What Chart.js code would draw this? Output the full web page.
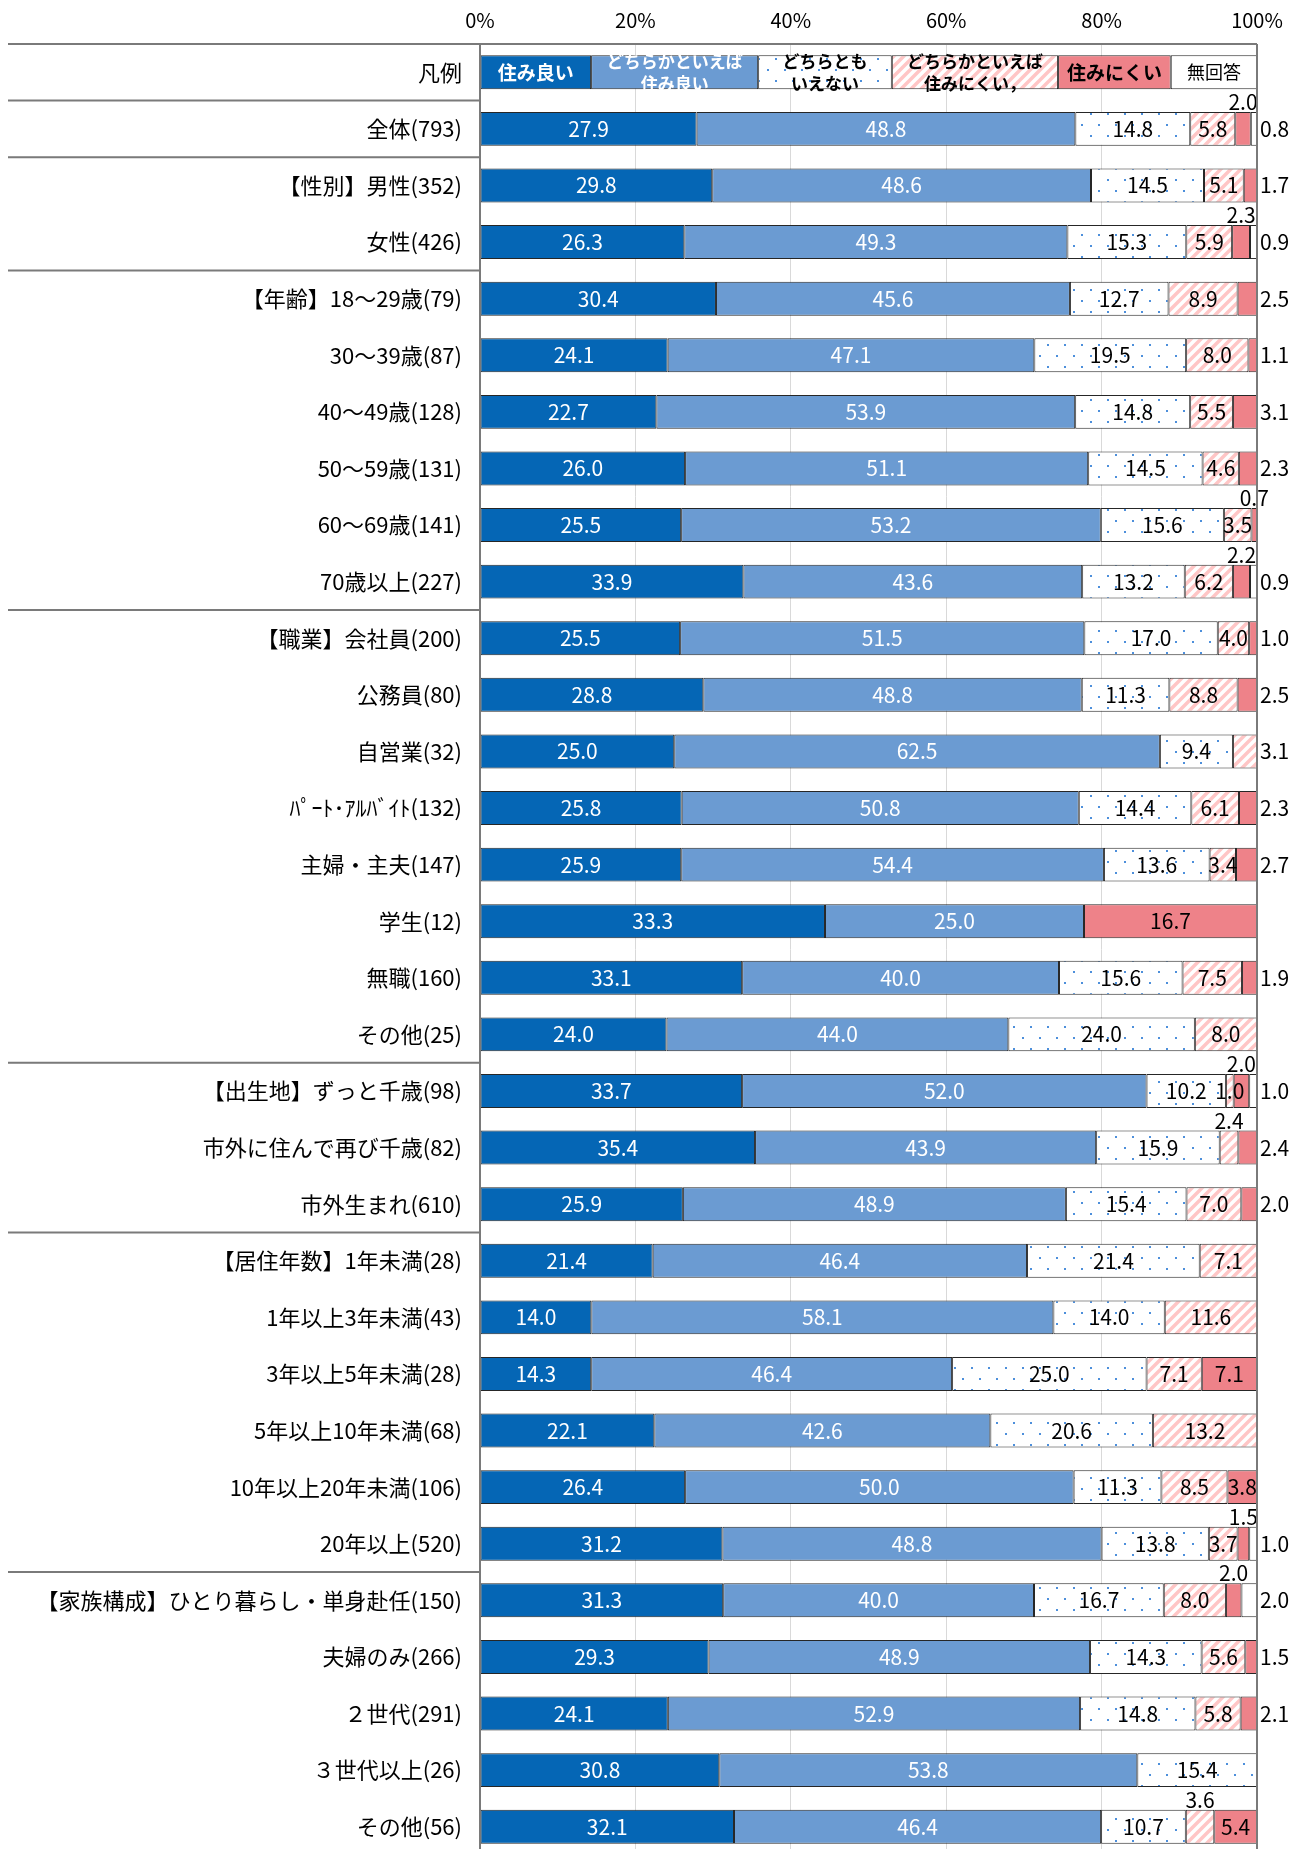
<!DOCTYPE html>
<html lang="ja">
<head>
<meta charset="utf-8">
<title>住みやすさ</title>
<script src="https://cdn.jsdelivr.net/npm/chart.js@4.4.1/dist/chart.umd.min.js"></script>
<style>
html, body { margin: 0; padding: 0; background: #fff; overflow: hidden; }
#wrap { position: relative; width: 1298px; height: 1856px; }
</style>
</head>
<body>
<div id="wrap"><canvas id="myChart"></canvas></div>
<script>
// 回答者の区分
var categories = [
    '全体(793)',
    '【性別】男性(352)', '女性(426)',
    '【年齢】18〜29歳(79)', '30〜39歳(87)', '40〜49歳(128)', '50〜59歳(131)', '60〜69歳(141)', '70歳以上(227)',
    '【職業】会社員(200)', '公務員(80)', '自営業(32)', 'ﾊﾟｰﾄ･ｱﾙﾊﾞｲﾄ(132)', '主婦・主夫(147)', '学生(12)', '無職(160)', 'その他(25)',
    '【出生地】ずっと千歳(98)', '市外に住んで再び千歳(82)', '市外生まれ(610)',
    '【居住年数】1年未満(28)', '1年以上3年未満(43)', '3年以上5年未満(28)', '5年以上10年未満(68)', '10年以上20年未満(106)', '20年以上(520)',
    '【家族構成】ひとり暮らし・単身赴任(150)', '夫婦のみ(266)', '２世代(291)', '３世代以上(26)', 'その他(56)'
];

// 回答の割合 (%)
var sumiyoi       = [27.9, 29.8, 26.3, 30.4, 24.1, 22.7, 26.0, 25.5, 33.9, 25.5, 28.8, 25.0, 25.8, 25.9, 33.3, 33.1, 24.0, 33.7, 35.4, 25.9, 21.4, 14.0, 14.3, 22.1, 26.4, 31.2, 31.3, 29.3, 24.1, 30.8, 32.1];
var yayaSumiyoi   = [48.8, 48.6, 49.3, 45.6, 47.1, 53.9, 51.1, 53.2, 43.6, 51.5, 48.8, 62.5, 50.8, 54.4, 25.0, 40.0, 44.0, 52.0, 43.9, 48.9, 46.4, 58.1, 46.4, 42.6, 50.0, 48.8, 40.0, 48.9, 52.9, 53.8, 46.4];
var dochiramo     = [14.8, 14.5, 15.3, 12.7, 19.5, 14.8, 14.5, 15.6, 13.2, 17.0, 11.3, 9.4, 14.4, 13.6, 0, 15.6, 24.0, 10.2, 15.9, 15.4, 21.4, 14.0, 25.0, 20.6, 11.3, 13.8, 16.7, 14.3, 14.8, 15.4, 10.7];
var yayaSuminikui = [5.8, 5.1, 5.9, 8.9, 8.0, 5.5, 4.6, 3.5, 6.2, 4.0, 8.8, 3.1, 6.1, 3.4, 0, 7.5, 8.0, 1.0, 2.4, 7.0, 7.1, 11.6, 7.1, 13.2, 8.5, 3.7, 8.0, 5.6, 5.8, 0, 3.6];
var suminikui     = [2.0, 1.7, 2.3, 2.5, 1.1, 3.1, 2.3, 0.7, 2.2, 1.0, 2.5, 0, 2.3, 2.7, 16.7, 1.9, 0, 2.0, 2.4, 2.0, 0, 0, 7.1, 0, 3.8, 1.5, 2.0, 1.5, 2.1, 0, 5.4];
var mukaitou      = [0.8, 0, 0.9, 0, 0, 0, 0, 0, 0.9, 0, 0, 0, 0, 0, 0, 0, 0, 1.0, 0, 0, 0, 0, 0, 0, 0, 1.0, 2.0, 0, 0, 0, 0];

var seriesNames = ['住み良い', 'どちらかといえば住み良い', 'どちらともいえない', 'どちらかといえば住みにくい', '住みにくい', '無回答'];
// 凡例の行 (元の表にある凡例用の値)
var legendRow = [14.3, 21.5, 17.2, 21.4, 14.5, 11.1];
var tickLabels = ['0%', '20%', '40%', '60%', '80%', '100%'];

// 区分の見出しが始まる位置 (categoriesの番号)
var groupStarts = [0, 1, 3, 9, 17, 20, 26];

// 小さい値のラベルの置き場所 (系列番号, -1 はなし)
var labelAbove = [4, -1, 4, -1, -1, -1, -1, 4, 4, -1, -1, -1, -1, -1, -1, -1, -1, 4, 3, -1, -1, -1, -1, -1, -1, 4, 4, -1, -1, -1, 3];
var labelRight = [5, 4, 5, 4, 4, 4, 4, -1, 5, 4, 4, 3, 4, 4, -1, 4, -1, 5, 4, 4, -1, -1, -1, -1, -1, 5, 5, 4, 4, -1, -1];

var legendText = [
    ['住み良い'],
    ['どちらかといえば', '住み良い'],
    ['どちらとも', 'いえない'],
    ['どちらかといえば', '住みにくい，'],
    ['住みにくい'],
    ['無回答']
];

var FONT = '"Noto Sans CJK JP", "Noto Sans", sans-serif';
Chart.defaults.font.family = FONT;
Chart.defaults.color = '#000';

function dotPattern() {
    var c = document.createElement('canvas');
    c.width = 17; c.height = 22;
    var g = c.getContext('2d');
    g.fillStyle = '#fff';
    g.fillRect(0, 0, 17, 22);
    g.fillStyle = '#4d8fdb';
    g.fillRect(2, 3, 2, 2);
    g.fillRect(10, 14, 2, 2);
    return g.createPattern(c, 'repeat');
}

function hatchPattern() {
    var c = document.createElement('canvas');
    c.width = 10; c.height = 10;
    var g = c.getContext('2d');
    g.fillStyle = '#fff';
    g.fillRect(0, 0, 10, 10);
    g.strokeStyle = '#ffc6c6';
    g.lineWidth = 3.5;
    g.beginPath();
    g.moveTo(-2, 12); g.lineTo(12, -2);
    g.moveTo(-2, 2); g.lineTo(2, -2);
    g.moveTo(8, 12); g.lineTo(12, 8);
    g.stroke();
    return g.createPattern(c, 'repeat');
}

var raw = [sumiyoi, yayaSumiyoi, dochiramo, yayaSuminikui, suminikui, mukaitou];
var fills = ['#0566b5', '#6b9bd2', dotPattern(), hatchPattern(), '#ee8289', '#ffffff'];

// 100%積み上げにするため行ごとの合計で割る
function share(d, i) {
    var total = 0;
    raw.forEach(function(arr) { total += arr[i]; });
    return raw[d][i] / total * 100;
}

var datasets = raw.map(function(arr, d) {
    return {
        label: seriesNames[d],
        data: [legendRow[d]].concat(arr.map(function(v, i) { return v ? share(d, i) : null; })),
        backgroundColor: fills[d],
        borderColor: '#262626',
        borderWidth: 1,
        borderSkipped: false,
        barPercentage: 0.6,
        categoryPercentage: 1
    };
});

var overlay = {
    id: 'overlay',
    afterDatasetsDraw: function(chart) {
        var ctx = chart.ctx;
        var area = chart.chartArea;
        var ys = chart.scales.y;
        var pitch = ys.getPixelForValue(1) - ys.getPixelForValue(0);
        ctx.save();

        // 凡例の行
        datasets.forEach(function(ds, d) {
            var el = chart.getDatasetMeta(d).data[0];
            var cx = (el.x + el.base) / 2;
            var lines = legendText[d];
            ctx.textAlign = 'center';
            ctx.textBaseline = 'middle';
            ctx.fillStyle = d < 2 ? '#fff' : '#000';
            if (d === 5) ctx.font = '18px ' + FONT;
            else if (lines.length === 1) ctx.font = 'bold 19px ' + FONT;
            else ctx.font = 'bold 17px ' + FONT;
            lines.forEach(function(t, k) {
                var off = lines.length === 1 ? 0 : (k === 0 ? -11 : 11);
                ctx.fillText(t, cx, el.y + off);
            });
        });

        // 値のラベル
        ctx.font = '21px ' + FONT;
        raw.forEach(function(arr, d) {
            var meta = chart.getDatasetMeta(d);
            arr.forEach(function(v, i) {
                if (!v) return;
                var el = meta.data[i + 1];
                var cx = (el.x + el.base) / 2;
                var txt = v.toFixed(1);
                ctx.textBaseline = 'middle';
                if (labelAbove[i] === d) {
                    ctx.textAlign = 'center';
                    ctx.fillStyle = '#000';
                    ctx.fillText(txt, cx, el.y - el.height / 2 - 10);
                } else if (labelRight[i] === d) {
                    ctx.textAlign = 'left';
                    ctx.fillStyle = '#000';
                    ctx.fillText(txt, area.right + 3, el.y);
                } else {
                    ctx.textAlign = 'center';
                    ctx.fillStyle = d < 2 ? '#fff' : '#000';
                    ctx.fillText(txt, cx, el.y);
                }
            });
        });

        // 枠線と区分線
        ctx.strokeStyle = '#7a7a7a';
        ctx.lineWidth = 2;
        ctx.beginPath();
        ctx.moveTo(8, area.top);
        ctx.lineTo(area.right, area.top);
        ctx.moveTo(area.left, area.top);
        ctx.lineTo(area.left, area.bottom);
        ctx.moveTo(area.right, area.top);
        ctx.lineTo(area.right, area.bottom);
        groupStarts.forEach(function(g) {
            var y = ys.getPixelForValue(g + 1) - pitch / 2;
            ctx.moveTo(8, y);
            ctx.lineTo(area.left, y);
        });
        ctx.stroke();
        ctx.restore();
    }
};

var ctx = document.getElementById('myChart').getContext('2d');
var chart = new Chart(ctx, {
    type: 'bar',
    data: {
        labels: ['凡例'].concat(categories),
        datasets: datasets
    },
    options: {
        indexAxis: 'y',
        responsive: true,
        maintainAspectRatio: false,
        animation: false,
        layout: { padding: { top: 0, left: 0, right: 41, bottom: 1 } },
        plugins: {
            legend: { display: false },
            tooltip: { enabled: false }
        },
        scales: {
            x: {
                stacked: true,
                position: 'top',
                min: 0,
                max: 100,
                ticks: {
                    stepSize: 20,
                    padding: 12,
                    font: { size: 20 },
                    callback: function(v) { return tickLabels[v / 20]; }
                },
                grid: { color: '#d9d9d9', drawTicks: false },
                border: { display: false },
                afterFit: function(s) { s.height = 44; s.paddingLeft = 0; s.paddingRight = 0; }
            },
            y: {
                stacked: true,
                ticks: { padding: 18, font: { size: 22 } },
                grid: { display: false, drawTicks: false },
                border: { display: false },
                afterFit: function(s) { s.width = 480; s.paddingTop = 0; s.paddingBottom = 0; }
            }
        }
    },
    plugins: [overlay]
});
</script>
</body>
</html>
